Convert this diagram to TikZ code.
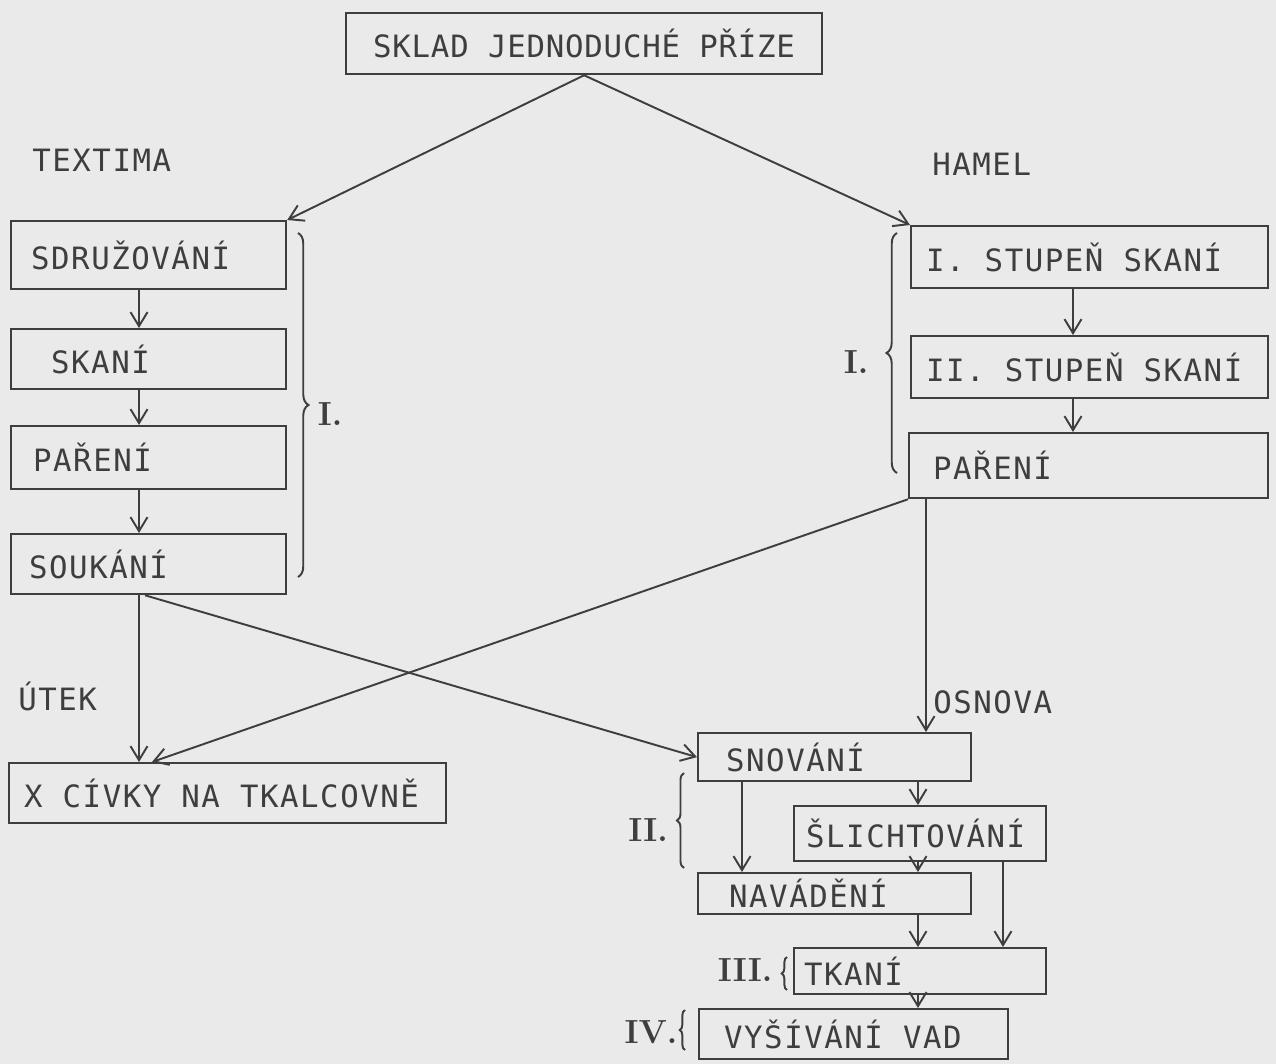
\documentclass[tikz,border=0pt]{standalone}
\usepackage{fontspec}
\usepackage{tikz}
\usetikzlibrary{arrows.meta,positioning,calc,decorations.pathreplacing}
\newfontfamily\typefont[LetterSpace=5]{DejaVu Sans Mono}
\newfontfamily\typetight[LetterSpace=2.5]{DejaVu Sans Mono}
\DeclareRobustCommand\stagefont{\typefont\fontsize{17.5}{20}\selectfont\frenchspacing}
\DeclareRobustCommand\tightfont{\typetight\fontsize{17.5}{20}\selectfont\frenchspacing}
\definecolor{paper}{RGB}{233,234,233}
\definecolor{ink}{RGB}{62,62,62}

\begin{document}
\begin{tikzpicture}[
  x=0.02cm, y=-0.02cm,
  stage/.style={draw=ink, line width=1.3pt, anchor=north west, align=flush left, inner ysep=0pt, text=ink, font=\stagefont},
  tag/.style={anchor=west, inner sep=0pt, text=ink, font=\stagefont},
  num/.style={text=ink, inner sep=0pt, font=\bfseries\fontsize{19}{21}\selectfont},
  arr/.style={draw=ink, line width=1.1pt, -{Straight Barb[length=2.8mm,width=3.4mm]}},
  brc/.style={draw=ink, line width=1.1pt, decorate, decoration={brace, amplitude=#1}},
  brc/.default=6pt
]
\fill[paper] (0,0) rectangle (1276,1064);

% top
\node[stage, align=flush center, text width=9.52cm, inner xsep=0pt, minimum height=1.22cm, font=\tightfont] (sklad) at (345,12) {SKLAD JEDNODUCHÉ PŘÍZE};
\node[tag] (textima) at (32,160) {TEXTIMA};
\node[tag] (hamel) at (932,164) {HAMEL};

% TEXTIMA column
\node[stage, text width=4.7cm, inner xsep=0.4cm, minimum height=1.36cm] (sdruz) at (10,220) {SDRUŽOVÁNÍ};
\node[stage, text width=3.9cm, inner xsep=0.8cm, minimum height=1.2cm] (skani) at (10,328) {SKANÍ};
\node[stage, text width=4.62cm, inner xsep=0.44cm, minimum height=1.26cm] (pareniA) at (10,425) {PAŘENÍ};
\node[stage, text width=4.78cm, inner xsep=0.36cm, minimum height=1.2cm] (soukani) at (10,533) {SOUKÁNÍ};

% HAMEL column
\node[stage, text width=6.54cm, inner xsep=0.3cm, minimum height=1.24cm] (stupA) at (910,225) {I. STUPEŇ SKANÍ};
\node[stage, text width=6.54cm, inner xsep=0.3cm, minimum height=1.24cm] (stupB) at (910,335) {II. STUPEŇ SKANÍ};
\node[stage, text width=6.22cm, inner xsep=0.48cm, minimum height=1.3cm] (pareniB) at (908,432) {PAŘENÍ};

% weft
\node[tag] (utek) at (18,696) {ÚTEK};
\node[stage, text width=8.14cm, inner xsep=0.3cm, minimum height=1.2cm] (civky) at (8,762) {X CÍVKY NA TKALCOVNĚ};

% warp
\node[tag] (osnova) at (933,702) {OSNOVA};
\node[stage, text width=4.34cm, inner xsep=0.56cm, minimum height=0.96cm] (snovani) at (697,732) {SNOVÁNÍ};
\node[stage, text width=4.56cm, inner xsep=0.24cm, minimum height=1.1cm] (slicht) at (793,805) {ŠLICHTOVÁNÍ};
\node[stage, text width=4.22cm, inner xsep=0.62cm, minimum height=0.82cm] (navad) at (697,872) {NAVÁDĚNÍ};
\node[stage, text width=4.64cm, inner xsep=0.2cm, minimum height=0.92cm] (tkani) at (793,947) {TKANÍ};
\node[stage, text width=5.18cm, inner xsep=0.5cm, minimum height=1.0cm] (vysiv) at (698,1008) {VYŠÍVÁNÍ VAD};

% columns of the vertical arrows
\coordinate (lx) at (139,0);
\coordinate (ux) at (145,0);
\coordinate (cx) at (152,0);
\coordinate (rx) at (1073,0);
\coordinate (ox) at (926,0);
\coordinate (sx) at (918,0);
\coordinate (nx) at (742,0);
\coordinate (tx) at (1003,0);

\draw[arr] (sklad.south) -- (sdruz.north east);
\draw[arr] (sklad.south) -- (stupA.north west);

\draw[arr] (sdruz.south -| lx) -- (skani.north -| lx);
\draw[arr] (skani.south -| lx) -- (pareniA.north -| lx);
\draw[arr] (pareniA.south -| lx) -- (soukani.north -| lx);
\draw[arr] (soukani.south -| lx) -- (civky.north -| lx);
\draw[arr] (soukani.south -| ux) -- (snovani.west);

\draw[arr] (stupA.south -| rx) -- (stupB.north -| rx);
\draw[arr] (stupB.south -| rx) -- (pareniB.north -| rx);
\draw[arr] (pareniB.south west) -- (civky.north -| cx);
\draw[arr] (pareniB.south -| ox) -- (snovani.north -| ox);

\draw[arr] (snovani.south -| sx) -- (slicht.north -| sx);
\draw[arr] (snovani.south -| nx) -- (navad.north -| nx);
\draw[arr] (slicht.south -| sx) -- (navad.north -| sx);
\draw[arr] (slicht.south -| tx) -- (tkani.north -| tx);
\draw[arr] (navad.south -| sx) -- (tkani.north -| sx);
\draw[arr] (tkani.south -| sx) -- (vysiv.north -| sx);

% braces and stage numbers
\draw[brc] (298,233) -- (298,577);
\node[num] (numA) at (330,414) {I.};
\draw[brc] (897,473) -- (897,233);
\node[num] (numB) at (856,362) {I.};
\draw[brc=4pt] (684,868) -- (684,773);
\node[num] (numC) at (648,830) {II.};
\draw[brc=3pt] (787,990) -- (787,957);
\node[num] (numD) at (745,970) {III.};
\draw[brc=3pt] (685,1050) -- (685,1010);
\node[num] (numE) at (651,1032) {IV.};

\end{tikzpicture}
\end{document}
